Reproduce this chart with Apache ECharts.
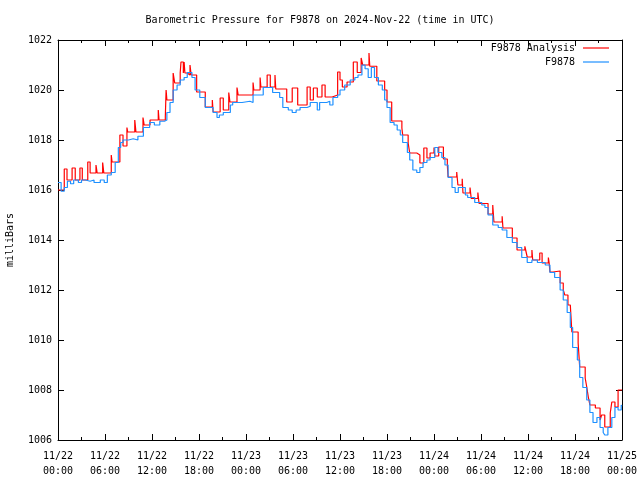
<!DOCTYPE html>
<html>
<head>
<meta charset="utf-8">
<script src="https://cdn.jsdelivr.net/npm/echarts@6/dist/echarts.min.js"></script>
<style>html,body{margin:0;padding:0;background:#fff}#c{width:640px;height:480px}</style>
</head>
<body>
<div id="c"></div>
<script>
// Hours since 2024-11-22 00:00 UTC
const analysisHours = [0.0,0.8,1.15,1.8,2.2,2.8,3.1,3.8,4.1,4.85,5.0,5.7,5.85,6.8,6.9,7.9,8.3,8.8,8.9,9.8,9.95,10.85,11.0,11.75,12.8,12.9,13.7,13.8,13.9,14.7,14.9,15.6,15.7,16.0,16.1,16.2,16.5,16.85,17.0,17.7,18.8,19.7,19.8,20.7,21.1,21.8,21.95,22.85,23.0,24.9,25.0,25.8,25.9,26.7,27.1,27.7,27.8,29.2,29.9,30.6,31.8,32.2,32.6,33.1,33.7,34.1,35.0,35.7,36.0,36.3,36.9,37.7,38.2,38.7,38.9,39.7,39.8,40.7,41.7,42.0,42.6,43.9,44.0,44.7,44.9,45.8,46.2,46.7,47.1,47.5,48.0,48.1,48.6,49.2,49.7,49.8,50.9,51.05,51.6,51.7,52.6,52.75,52.9,53.6,53.75,53.9,54.9,55.5,55.65,55.8,56.7,56.8,58.0,58.6,59.6,59.7,59.9,60.5,60.6,61.5,61.8,62.6,62.7,62.8,63.2,64.1,64.5,64.7,65.1,65.4,65.6,66.4,66.6,67.3,67.5,67.7,67.9,68.6,69.2,69.4,69.8,70.5,70.7,71.1,71.5,72.0];
const analysisValues = [1016.0,1016.84,1016.4,1016.88,1016.4,1016.88,1016.4,1017.12,1016.68,1017.0,1016.68,1017.1,1016.68,1017.4,1017.12,1018.2,1017.76,1018.5,1018.32,1018.8,1018.32,1018.9,1018.6,1018.8,1019.2,1018.8,1018.92,1020.0,1019.6,1020.68,1020.28,1020.68,1021.12,1020.68,1021.12,1020.68,1020.6,1021.0,1020.6,1019.92,1019.32,1019.6,1019.12,1019.68,1019.2,1019.9,1019.52,1020.1,1019.8,1020.3,1020.0,1020.5,1020.12,1020.6,1020.12,1020.6,1020.04,1019.52,1020.08,1019.4,1020.12,1019.6,1020.08,1019.72,1020.2,1019.72,1019.8,1020.72,1020.4,1020.12,1020.32,1021.12,1020.7,1021.28,1021.0,1021.48,1020.95,1020.36,1020.0,1019.52,1018.76,1018.48,1018.2,1017.88,1017.48,1017.4,1017.08,1017.68,1017.28,1017.48,1017.7,1017.36,1017.72,1017.24,1017.0,1016.52,1016.72,1016.2,1016.45,1015.88,1016.1,1015.66,1015.66,1015.9,1015.46,1015.46,1015.04,1015.4,1014.72,1014.72,1014.95,1014.48,1014.08,1013.6,1013.75,1013.6,1013.32,1013.6,1013.2,1013.48,1013.08,1013.3,1013.08,1012.72,1012.76,1012.28,1012.0,1011.8,1011.4,1011.32,1010.32,1009.88,1008.92,1008.48,1008.12,1007.72,1007.4,1007.28,1006.8,1007.0,1006.52,1007.08,1007.52,1007.32,1008.0,1008.0];

const stationHours = [0.0,0.4,0.8,1.2,1.6,2.0,2.6,3.0,3.5,4.1,4.6,5.4,5.9,6.3,6.8,7.3,7.7,8.0,8.3,9.0,9.6,10.2,10.9,11.7,12.3,13.0,13.6,13.9,14.3,14.7,15.2,15.6,16.1,16.5,17.1,17.5,18.1,18.8,19.8,20.3,20.6,21.1,22.0,22.3,23.5,24.5,24.9,26.2,27.4,28.3,28.7,29.4,29.9,30.4,30.9,31.8,32.2,33.1,33.4,34.3,34.7,35.1,35.7,36.0,36.6,37.3,37.9,38.3,38.8,39.2,39.6,40.0,40.4,40.9,41.4,41.7,42.0,42.4,42.9,43.3,43.7,44.0,44.6,44.9,45.3,45.8,46.2,46.6,47.1,47.5,48.1,48.5,49.0,49.4,49.8,50.3,50.7,51.1,52.0,52.3,52.9,53.2,53.6,54.1,54.5,54.9,55.5,56.2,56.7,57.3,58.0,58.6,59.2,59.9,60.5,61.2,62.2,62.8,63.4,64.1,64.5,65.0,65.4,65.7,66.3,66.6,67.0,67.5,67.9,68.3,68.8,69.2,69.6,69.8,70.2,70.7,71.1,71.5,71.9,72.0];
const stationValues = [1016.3,1015.95,1016.1,1016.35,1016.25,1016.4,1016.3,1016.4,1016.35,1016.4,1016.3,1016.4,1016.3,1016.6,1016.7,1017.1,1017.7,1017.9,1018.0,1018.05,1018.0,1018.15,1018.5,1018.7,1018.6,1018.75,1018.8,1019.1,1019.5,1020.0,1020.2,1020.4,1020.5,1020.7,1020.5,1020.0,1019.7,1019.3,1019.1,1018.9,1019.0,1019.1,1019.4,1019.5,1019.55,1019.5,1019.8,1020.1,1019.9,1019.7,1019.3,1019.2,1019.1,1019.2,1019.3,1019.35,1019.5,1019.2,1019.5,1019.55,1019.4,1019.7,1019.8,1020.0,1020.2,1020.4,1020.5,1020.6,1021.0,1020.85,1020.5,1020.9,1020.5,1020.2,1020.0,1019.6,1019.3,1018.7,1018.6,1018.4,1018.2,1017.9,1017.5,1017.2,1016.8,1016.7,1016.9,1017.1,1017.2,1017.3,1017.7,1017.5,1017.3,1017.0,1016.5,1016.1,1015.9,1016.1,1015.8,1015.7,1015.7,1015.5,1015.5,1015.4,1015.3,1015.0,1014.6,1014.5,1014.4,1014.1,1013.9,1013.7,1013.3,1013.1,1013.2,1013.1,1013.0,1012.7,1012.5,1012.0,1011.6,1011.1,1010.5,1009.7,1009.2,1008.5,1008.1,1007.6,1007.1,1006.7,1006.9,1006.5,1006.3,1006.2,1006.5,1006.9,1007.3,1007.2,1007.4,1007.35];

const titleText = 'Barometric Pressure for F9878 on 2024-Nov-22 (time in UTC)';
const yAxisName = 'milliBars';
const seriesNames = ['F9878 Analysis', 'F9878'];
const startDay = 22;

const FONT = '"DejaVu Sans Mono", "Liberation Mono", monospace';
const zip = (a, b) => a.map((h, i) => [h, b[i]]);

const chart = echarts.init(document.getElementById('c'), null, {renderer: 'canvas'});
const axisLine = {show: true, onZero: false, lineStyle: {color: '#000', width: 1}};
const tick = {show: true, inside: true, length: 6, lineStyle: {color: '#000'}};
const minor = {show: true, splitNumber: 2, length: 3, lineStyle: {color: '#000'}};
const legendCommon = {right: 31, orient: 'vertical', align: 'right', padding: 0,
  icon: 'rect', itemWidth: 26, itemHeight: 1.2, itemGap: 4,
  textStyle: {fontFamily: FONT, fontSize: 10, color: '#000', padding: [0, 3, 0, 0]}};
chart.setOption({
  animation: false,
  backgroundColor: '#fff',
  title: {text: titleText, left: 'center', top: 10,
    textStyle: {fontFamily: FONT, fontSize: 10, fontWeight: 'normal', color: '#000'}},
  legend: [
    Object.assign({data: [seriesNames[0]], top: 43}, legendCommon),
    Object.assign({data: [seriesNames[1]], top: 57}, legendCommon)
  ],
  grid: {left: 58, right: 18, top: 40, bottom: 40, containLabel: false, outerBoundsMode: 'none'},
  xAxis: [
    {type: 'value', min: 0, max: 72, interval: 6, position: 'bottom',
     axisLine: axisLine, axisTick: tick, minorTick: minor,
     splitLine: {show: false},
     axisLabel: {fontFamily: FONT, fontSize: 10, color: '#000', margin: 9, lineHeight: 15,
       hideOverlap: false, showMinLabel: true, showMaxLabel: true,
       formatter: v => {
         const d = startDay + Math.floor(v / 24);
         const h = v % 24;
         return '11/' + d + '\n' + String(h).padStart(2, '0') + ':00';
       }}},
    {type: 'value', min: 0, max: 72, interval: 6, position: 'top',
     axisLine: axisLine, axisTick: tick, minorTick: minor,
     splitLine: {show: false}, axisLabel: {show: false}}
  ],
  yAxis: [
    {type: 'value', min: 1006, max: 1022, interval: 2, position: 'left',
     name: yAxisName, nameLocation: 'middle', nameGap: 43, nameRotate: 90, nameMoveOverlap: false,
     nameTextStyle: {fontFamily: FONT, fontSize: 10, color: '#000'},
     axisLine: axisLine, axisTick: tick,
     splitLine: {show: false},
     axisLabel: {fontFamily: FONT, fontSize: 10, color: '#000', margin: 6,
       formatter: v => String(v)}},
    {type: 'value', min: 1006, max: 1022, interval: 2, position: 'right',
     axisLine: axisLine, axisTick: tick,
     splitLine: {show: false}, axisLabel: {show: false}}
  ],
  series: [
    {name: seriesNames[0], type: 'line', step: 'end', showSymbol: false, symbol: 'none',
     data: zip(analysisHours, analysisValues), color: '#ff0000',
     lineStyle: {color: '#ff0000', width: 1.2}, z: 2},
    {name: seriesNames[1], type: 'line', step: 'end', showSymbol: false, symbol: 'none',
     data: zip(stationHours, stationValues), color: '#1e90ff',
     lineStyle: {color: '#1e90ff', width: 1.2}, z: 3}
  ]
});
</script>
</body>
</html>
